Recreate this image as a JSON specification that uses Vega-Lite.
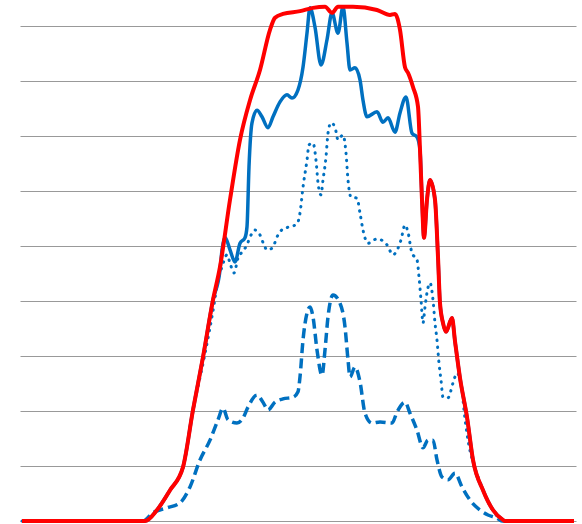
{
  "$schema": "https://vega.github.io/schema/vega-lite/v6.json",
  "autosize": {"type": "none"},
  "padding": {"left": 20, "top": 1, "right": 6, "bottom": 3},
  "width": 556,
  "height": 520,
  "background": "white",
  "config": {"view": {"stroke": null}},
  "datasets": {
    "dashed": [
      {"x": 2, "y": 0}, {"x": 123, "y": 0}, {"x": 133, "y": 0.15}, {"x": 147, "y": 0.24}, {"x": 160, "y": 0.33},
      {"x": 170, "y": 0.62}, {"x": 180, "y": 1.11}, {"x": 190, "y": 1.47}, {"x": 198, "y": 1.84}, {"x": 203, "y": 2.05},
      {"x": 208, "y": 1.84}, {"x": 217, "y": 1.78}, {"x": 223, "y": 1.87}, {"x": 228, "y": 2.07}, {"x": 237, "y": 2.29},
      {"x": 243, "y": 2.16}, {"x": 248, "y": 2.02}, {"x": 255, "y": 2.16}, {"x": 263, "y": 2.22}, {"x": 273, "y": 2.25},
      {"x": 278, "y": 2.35}, {"x": 280, "y": 2.62}, {"x": 283, "y": 3.29}, {"x": 287, "y": 3.78}, {"x": 290, "y": 3.89},
      {"x": 293, "y": 3.71}, {"x": 297, "y": 3.11}, {"x": 302, "y": 2.65}, {"x": 305, "y": 3.11}, {"x": 308, "y": 3.71},
      {"x": 313, "y": 4.11}, {"x": 320, "y": 3.96}, {"x": 325, "y": 3.53}, {"x": 328, "y": 2.93}, {"x": 330, "y": 2.62},
      {"x": 335, "y": 2.8}, {"x": 340, "y": 2.53}, {"x": 345, "y": 1.96}, {"x": 352, "y": 1.78}, {"x": 360, "y": 1.8},
      {"x": 372, "y": 1.78}, {"x": 377, "y": 1.98}, {"x": 385, "y": 2.16}, {"x": 390, "y": 1.96}, {"x": 397, "y": 1.65},
      {"x": 403, "y": 1.33}, {"x": 408, "y": 1.47}, {"x": 413, "y": 1.47}, {"x": 417, "y": 1.11}, {"x": 422, "y": 0.8},
      {"x": 428, "y": 0.75}, {"x": 435, "y": 0.87}, {"x": 442, "y": 0.62}, {"x": 450, "y": 0.38}, {"x": 460, "y": 0.2},
      {"x": 468, "y": 0.11}, {"x": 477, "y": 0.05}, {"x": 482, "y": 0}, {"x": 554, "y": 0}
    ],
    "dotted": [
      {"x": 2, "y": 0}, {"x": 125, "y": 0}, {"x": 137, "y": 0.2}, {"x": 150, "y": 0.56}, {"x": 163, "y": 0.98},
      {"x": 173, "y": 2.02}, {"x": 184, "y": 2.95}, {"x": 194, "y": 3.93}, {"x": 198, "y": 4.38}, {"x": 202, "y": 4.62},
      {"x": 207, "y": 4.84}, {"x": 210, "y": 4.69}, {"x": 214, "y": 4.51}, {"x": 218, "y": 4.78}, {"x": 222, "y": 4.89},
      {"x": 227, "y": 5.02}, {"x": 230, "y": 5.16}, {"x": 235, "y": 5.29}, {"x": 240, "y": 5.2}, {"x": 244, "y": 5.02},
      {"x": 247, "y": 4.93}, {"x": 252, "y": 4.96}, {"x": 258, "y": 5.2}, {"x": 263, "y": 5.31}, {"x": 270, "y": 5.35},
      {"x": 277, "y": 5.4}, {"x": 280, "y": 5.6}, {"x": 283, "y": 6.07}, {"x": 287, "y": 6.56}, {"x": 289, "y": 6.84},
      {"x": 293, "y": 6.87}, {"x": 296, "y": 6.56}, {"x": 298, "y": 6.15}, {"x": 301, "y": 5.93}, {"x": 303, "y": 6.2},
      {"x": 306, "y": 6.62}, {"x": 308, "y": 7.05}, {"x": 311, "y": 7.24}, {"x": 315, "y": 7.16}, {"x": 318, "y": 6.93},
      {"x": 323, "y": 7.02}, {"x": 326, "y": 6.69}, {"x": 328, "y": 6.2}, {"x": 331, "y": 5.89}, {"x": 337, "y": 5.87},
      {"x": 340, "y": 5.6}, {"x": 343, "y": 5.29}, {"x": 348, "y": 5.05}, {"x": 357, "y": 5.13}, {"x": 367, "y": 5.02},
      {"x": 373, "y": 4.84}, {"x": 378, "y": 4.96}, {"x": 381, "y": 5.11}, {"x": 385, "y": 5.38}, {"x": 388, "y": 5.25},
      {"x": 392, "y": 4.87}, {"x": 397, "y": 4.75}, {"x": 399, "y": 4.44}, {"x": 401, "y": 4.02}, {"x": 403, "y": 3.6},
      {"x": 405, "y": 3.89}, {"x": 407, "y": 4.15}, {"x": 410, "y": 4.33}, {"x": 413, "y": 4.02}, {"x": 415, "y": 3.6},
      {"x": 417, "y": 3.29}, {"x": 419, "y": 2.87}, {"x": 421, "y": 2.56}, {"x": 423, "y": 2.25}, {"x": 428, "y": 2.24},
      {"x": 433, "y": 2.51}, {"x": 437, "y": 2.69}, {"x": 442, "y": 2.38}, {"x": 444, "y": 2.02}, {"x": 448, "y": 1.47},
      {"x": 453, "y": 1.07}, {"x": 460, "y": 0.71}, {"x": 468, "y": 0.35}, {"x": 477, "y": 0.09}, {"x": 482, "y": 0},
      {"x": 554, "y": 0}
    ],
    "solid": [
      {"x": 2, "y": 0}, {"x": 125, "y": 0}, {"x": 137, "y": 0.2}, {"x": 150, "y": 0.56}, {"x": 163, "y": 0.98},
      {"x": 173, "y": 2.02}, {"x": 183, "y": 2.98}, {"x": 193, "y": 4.02}, {"x": 200, "y": 4.56}, {"x": 202, "y": 4.93},
      {"x": 205, "y": 5.16}, {"x": 210, "y": 4.93}, {"x": 215, "y": 4.71}, {"x": 220, "y": 5.05}, {"x": 225, "y": 5.15},
      {"x": 227, "y": 5.35}, {"x": 229, "y": 6.44}, {"x": 232, "y": 7.24}, {"x": 237, "y": 7.47}, {"x": 242, "y": 7.35},
      {"x": 248, "y": 7.15}, {"x": 253, "y": 7.35}, {"x": 260, "y": 7.62}, {"x": 267, "y": 7.75}, {"x": 272, "y": 7.69},
      {"x": 278, "y": 7.84}, {"x": 283, "y": 8.25}, {"x": 287, "y": 8.87}, {"x": 290, "y": 9.33}, {"x": 295, "y": 8.98},
      {"x": 301, "y": 8.29}, {"x": 307, "y": 8.75}, {"x": 312, "y": 9.24}, {"x": 318, "y": 8.87}, {"x": 323, "y": 9.35},
      {"x": 327, "y": 8.69}, {"x": 330, "y": 8.2}, {"x": 335, "y": 8.24}, {"x": 340, "y": 8.02}, {"x": 343, "y": 7.65},
      {"x": 347, "y": 7.35}, {"x": 357, "y": 7.44}, {"x": 363, "y": 7.25}, {"x": 368, "y": 7.33}, {"x": 375, "y": 7.07},
      {"x": 380, "y": 7.42}, {"x": 386, "y": 7.71}, {"x": 392, "y": 7.05}, {"x": 397, "y": 6.98}, {"x": 400, "y": 6.75},
      {"x": 402, "y": 5.84}, {"x": 404, "y": 5.15}, {"x": 407, "y": 5.84}, {"x": 410, "y": 6.2}, {"x": 415, "y": 5.84},
      {"x": 418, "y": 4.8}, {"x": 420, "y": 3.96}, {"x": 423, "y": 3.6}, {"x": 426, "y": 3.44}, {"x": 432, "y": 3.69},
      {"x": 435, "y": 3.27}, {"x": 440, "y": 2.6}, {"x": 447, "y": 1.89}, {"x": 453, "y": 1.11}, {"x": 463, "y": 0.56},
      {"x": 473, "y": 0.2}, {"x": 483, "y": 0.02}, {"x": 485, "y": 0}, {"x": 554, "y": 0}
    ],
    "red": [
      {"x": 2, "y": 0}, {"x": 125, "y": 0}, {"x": 137, "y": 0.2}, {"x": 150, "y": 0.56}, {"x": 163, "y": 0.98},
      {"x": 173, "y": 2.02}, {"x": 183, "y": 2.98}, {"x": 193, "y": 4.02}, {"x": 200, "y": 4.62}, {"x": 210, "y": 5.84},
      {"x": 220, "y": 6.93}, {"x": 230, "y": 7.65}, {"x": 240, "y": 8.2}, {"x": 250, "y": 8.93}, {"x": 255, "y": 9.15},
      {"x": 263, "y": 9.22}, {"x": 280, "y": 9.27}, {"x": 293, "y": 9.33}, {"x": 305, "y": 9.35}, {"x": 312, "y": 9.24},
      {"x": 318, "y": 9.35}, {"x": 333, "y": 9.35}, {"x": 357, "y": 9.29}, {"x": 370, "y": 9.2}, {"x": 375, "y": 9.22},
      {"x": 380, "y": 8.93}, {"x": 385, "y": 8.25}, {"x": 388, "y": 8.15}, {"x": 393, "y": 7.89}, {"x": 398, "y": 7.53},
      {"x": 400, "y": 6.75}, {"x": 402, "y": 5.84}, {"x": 404, "y": 5.15}, {"x": 407, "y": 5.84}, {"x": 410, "y": 6.2},
      {"x": 415, "y": 5.84}, {"x": 418, "y": 4.8}, {"x": 420, "y": 3.96}, {"x": 423, "y": 3.6}, {"x": 426, "y": 3.44},
      {"x": 432, "y": 3.69}, {"x": 435, "y": 3.27}, {"x": 440, "y": 2.6}, {"x": 447, "y": 1.89}, {"x": 453, "y": 1.11},
      {"x": 463, "y": 0.56}, {"x": 473, "y": 0.2}, {"x": 483, "y": 0.02}, {"x": 485, "y": 0}, {"x": 554, "y": 0}
    ]
  },
  "encoding": {
    "x": {"field": "x", "type": "quantitative", "scale": {"domain": [0, 556], "nice": false, "zero": false}, "axis": null},
    "y": {
      "field": "y", "type": "quantitative",
      "scale": {"domain": [0, 9.4545], "nice": false},
      "axis": {"values": [0, 1, 2, 3, 4, 5, 6, 7, 8, 9], "grid": true, "gridColor": "#999999", "gridWidth": 1, "gridOpacity": 1, "labels": false, "ticks": false, "domain": false, "title": null}
    }
  },
  "layer": [
    {"data": {"name": "dashed"}, "mark": {"type": "line", "interpolate": "monotone", "color": "#0070C0", "strokeWidth": 3.5, "strokeDash": [10, 5], "strokeCap": "butt"}},
    {"data": {"name": "dotted"}, "mark": {"type": "line", "interpolate": "monotone", "color": "#0070C0", "strokeWidth": 3, "strokeDash": [0.5, 6.5], "strokeCap": "round"}},
    {"data": {"name": "solid"}, "mark": {"type": "line", "interpolate": "monotone", "color": "#0070C0", "strokeWidth": 3.5, "strokeJoin": "round"}},
    {"data": {"name": "red"}, "mark": {"type": "line", "interpolate": "monotone", "color": "#FF0000", "strokeWidth": 4, "strokeJoin": "round"}}
  ]
}
